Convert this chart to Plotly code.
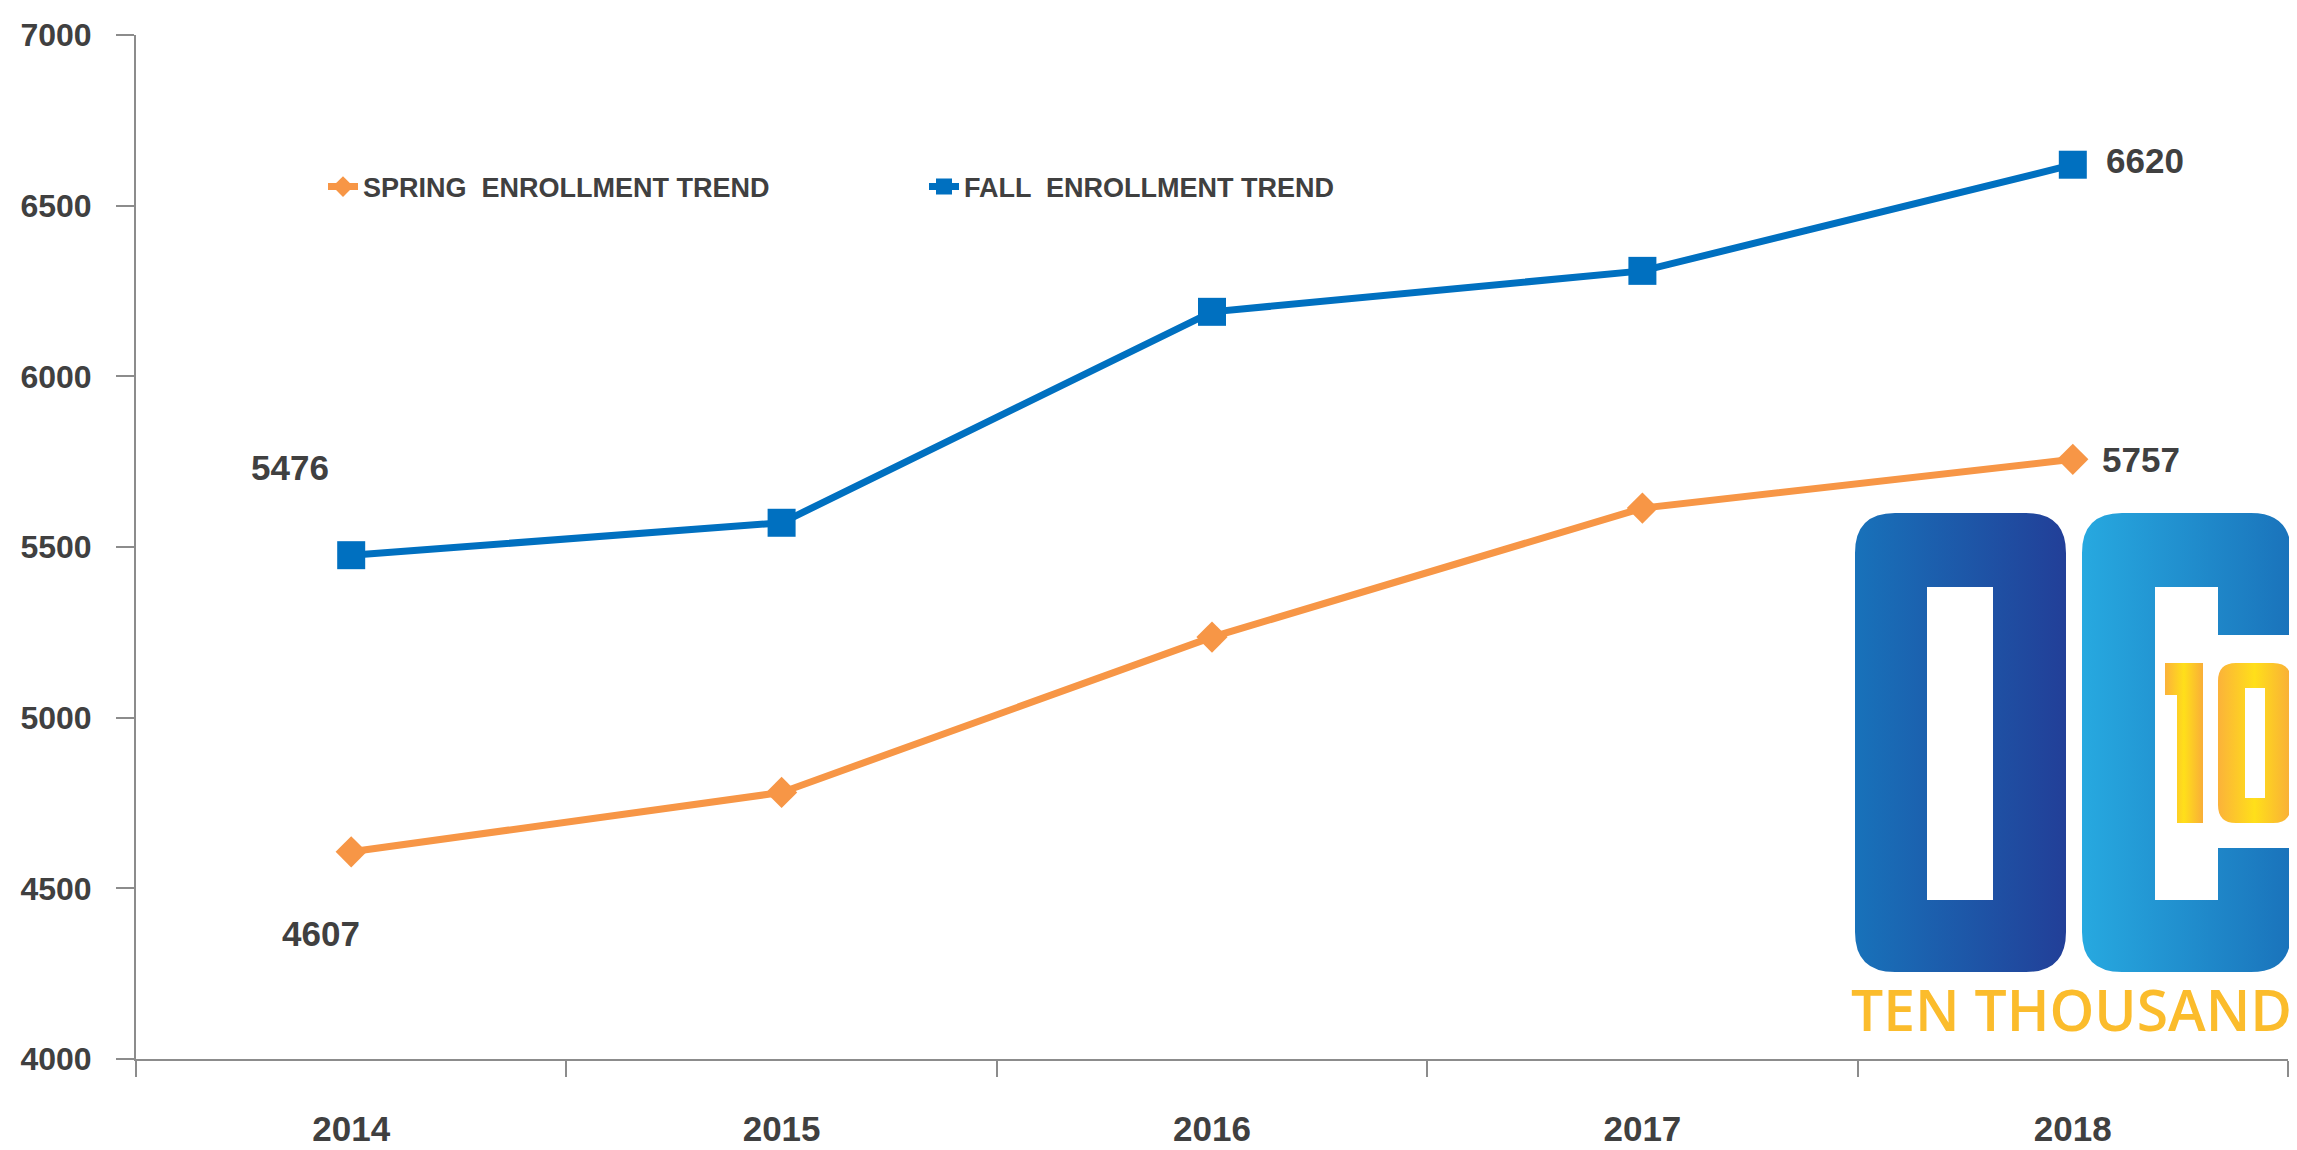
import base64
import plotly.graph_objects as go

years = ["2014", "2015", "2016", "2017", "2018"]
spring = [4607, 4781, 5236, 5614, 5757]
fall = [5476, 5571, 6189, 6309, 6620]
y_ticks = [4000, 4500, 5000, 5500, 6000, 6500, 7000]

FONT = "Liberation Sans, Arial, sans-serif"
TXT = "#404040"
ORANGE = "#F79646"
BLUE = "#0070C0"

W, H = 2297, 1150
OFF = 8  # page body margin around the plot div
L, R, T, B = 128, 17, 27, 99

fig = go.Figure()

fig.add_trace(go.Scatter(
    x=years, y=spring, name="SPRING  ENROLLMENT TREND",
    mode="lines+markers",
    line=dict(color=ORANGE, width=7),
    marker=dict(symbol="diamond", size=24, color=ORANGE),
))
fig.add_trace(go.Scatter(
    x=years, y=fall, name="FALL  ENROLLMENT TREND",
    mode="lines+markers",
    line=dict(color=BLUE, width=7),
    marker=dict(symbol="square", size=28, color=BLUE),
))

# value labels on first and last points (x given as category index)
lbl = dict(showarrow=False, xref="x", yref="y", xanchor="center", yanchor="middle",
           font=dict(family=FONT, size=35, color=TXT, weight="bold"))
first, last = 0, len(years) - 1
fig.add_annotation(x=first, y=fall[first], text=str(fall[first]), xshift=-61, yshift=88, **lbl)
fig.add_annotation(x=first, y=spring[first], text=str(spring[first]), xshift=-30, yshift=-82, **lbl)
fig.add_annotation(x=last, y=fall[last], text=str(fall[last]), xshift=72, yshift=4, **lbl)
fig.add_annotation(x=last, y=spring[last], text=str(spring[last]), xshift=68, yshift=0, **lbl)

# OC10 logo artwork (shapes with gradients); its wording is kept as real text
svg = """<svg xmlns="http://www.w3.org/2000/svg" width="447" height="470" viewBox="0 0 447 470">
<defs>
<linearGradient id="go" x1="0" x2="1" y1="0" y2="0">
<stop offset="0" stop-color="#1872BA"/><stop offset="1" stop-color="#223F98"/></linearGradient>
<linearGradient id="gc" x1="0" x2="1" y1="0" y2="0">
<stop offset="0" stop-color="#27A9E0"/><stop offset="1" stop-color="#1A73BB"/></linearGradient>
<linearGradient id="gy" x1="0" x2="1" y1="0" y2="0">
<stop offset="0" stop-color="#FBB23A"/><stop offset="0.5" stop-color="#FFDF1A"/><stop offset="1" stop-color="#F9AE38"/></linearGradient>
</defs>
<path fill="url(#go)" fill-rule="evenodd" d="M45,5 H176 Q216,5 216,45 V424 Q216,464 176,464 H45 Q5,464 5,424 V45 Q5,5 45,5 Z M77,79 V392 H143 V79 Z"/>
<path fill="url(#gc)" fill-rule="evenodd" d="M272,5 H401 Q441,5 441,45 V127 H368 V79 H305 V392 H368 V340 H441 V424 Q441,464 401,464 H272 Q232,464 232,424 V45 Q232,5 272,5 Z"/>
<path fill="url(#gy)" d="M315,155 H353 V315 H327 V187 H315 Z"/>
<path fill="url(#gy)" fill-rule="evenodd" d="M386,155 H423 Q441,155 441,173 V297 Q441,315 423,315 H386 Q368,315 368,297 V173 Q368,155 386,155 Z M395,180 V290 H415 V180 Z"/>
</svg>"""
src = "data:image/svg+xml;base64," + base64.b64encode(svg.encode()).decode()

pw, ph = W - L - R, H - T - B


def px(x):
    # page pixel -> paper fraction
    return (x - OFF - L) / pw


def py(y):
    return (OFF + H - B - y) / ph


fig.add_layout_image(
    source=src, xref="paper", yref="paper",
    x=px(1850), y=py(508), sizex=447 / pw, sizey=470 / ph,
    xanchor="left", yanchor="top", sizing="stretch", layer="above",
)
fig.add_annotation(
    xref="paper", yref="paper", x=px(2071), y=py(1009),
    xanchor="center", yanchor="middle",
    text="TEN THOUSAND", showarrow=False,
    font=dict(family="Open Sans, sans-serif", size=57, color="#FBBC2C", weight=600),
)

fig.update_layout(
    width=W, height=H,
    margin=dict(l=L, r=R, t=T, b=B, autoexpand=False),
    plot_bgcolor="white", paper_bgcolor="white",
    font=dict(family=FONT, color=TXT),
    showlegend=True,
    legend=dict(
        orientation="h", x=px(323), y=py(187), xanchor="left", yanchor="middle",
        font=dict(family=FONT, size=27, color=TXT, weight="bold"),
        bgcolor="rgba(0,0,0,0)", entrywidth=556, entrywidthmode="pixels",
    ),
)

fig.update_xaxes(
    type="category", range=[-0.5, 4.5], automargin=False,
    showline=True, linecolor="#8C8C8C", linewidth=2,
    ticks="outside", tickson="boundaries", ticklen=16, tickcolor="#8C8C8C", tickwidth=2,
    ticklabelstandoff=38,
    tickfont=dict(family=FONT, size=35, color=TXT, weight="bold"),
    showgrid=False, zeroline=False,
)
fig.update_yaxes(
    range=[4000, 7000], tickvals=y_ticks, automargin=False,
    showline=True, linecolor="#8C8C8C", linewidth=2,
    ticks="outside", ticklen=18, tickcolor="#8C8C8C", tickwidth=2,
    ticklabelstandoff=18,
    tickfont=dict(family=FONT, size=32, color=TXT, weight="bold"),
    showgrid=False, zeroline=False,
)

fig.write_html("out.html")
